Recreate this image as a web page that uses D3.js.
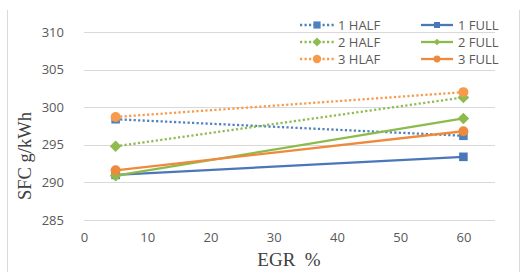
<!DOCTYPE html>
<html>
<head>
<meta charset="utf-8">
<script src="https://cdn.jsdelivr.net/npm/d3@7"></script>
<style>
  body { margin: 0; background: #fff; }
  svg { display: block; }
</style>
</head>
<body>
<script>
const egr = [5, 60];
const seriesNames = ["1 HALF", "1 FULL", "2 HALF", "2 FULL", "3 HLAF", "3 FULL"];
const half1 = [298.4, 296.2];
const full1 = [291.0, 293.4];
const half2 = [294.8, 301.3];
const full2 = [290.9, 298.5];
const half3 = [298.7, 302.0];
const full3 = [291.6, 296.8];
const xTicks = [0, 10, 20, 30, 40, 50, 60];
const yTicks = [285, 290, 295, 300, 305, 310];

const series = [
  { name: seriesNames[0], values: half1, color: "#4f81bd", dotted: true, shape: "square" },
  { name: seriesNames[1], values: full1, color: "#4a77b8", dotted: false, shape: "square" },
  { name: seriesNames[2], values: half2, color: "#8fbc52", dotted: true, shape: "diamond" },
  { name: seriesNames[3], values: full2, color: "#8cbb4b", dotted: false, shape: "diamond" },
  { name: seriesNames[4], values: half3, color: "#f79a4c", dotted: true, shape: "circle" },
  { name: seriesNames[5], values: full3, color: "#ef8a3c", dotted: false, shape: "circle" }
];

const width = 521, height = 272;
const svg = d3.select("body").append("svg")
  .attr("width", width)
  .attr("height", height);

// chart border (left / right)
svg.append("line").attr("x1", 7.5).attr("x2", 7.5).attr("y1", 10).attr("y2", 272)
  .attr("stroke", "#d9d9d9");
svg.append("line").attr("x1", 519.5).attr("x2", 519.5).attr("y1", 10).attr("y2", 272)
  .attr("stroke", "#d9d9d9");

const xScale = d3.scaleLinear().domain([0, 65]).range([84, 495]);
const yScale = d3.scaleLinear().domain([285, 310]).range([220, 32]);

// gridlines
svg.append("g")
  .selectAll("line")
  .data(yTicks)
  .join("line")
  .attr("x1", xScale(0))
  .attr("x2", xScale(65))
  .attr("y1", d => Math.round(yScale(d)) + 0.5)
  .attr("y2", d => Math.round(yScale(d)) + 0.5)
  .attr("stroke", "#d9d9d9")
  .attr("stroke-width", 1.2);

const tickFont = "'Open Sans', 'Liberation Sans', sans-serif";

const yAxis = d3.axisLeft(yScale).tickValues(yTicks).tickSize(0).tickPadding(0);
const yg = svg.append("g").attr("transform", "translate(64,0)").call(yAxis);
yg.select(".domain").remove();
yg.selectAll("text").attr("font-family", tickFont).attr("font-size", 13).attr("fill", "#595959");

const xAxis = d3.axisBottom(xScale).tickValues(xTicks).tickSize(0).tickPadding(0);
const xg = svg.append("g").attr("transform", "translate(0,233)").call(xAxis);
xg.select(".domain").remove();
xg.selectAll("text").attr("font-family", tickFont).attr("font-size", 13).attr("fill", "#595959");

// axis titles
svg.append("text")
  .attr("transform", "translate(31,156) rotate(-90)")
  .attr("text-anchor", "middle")
  .attr("font-family", "'Liberation Serif', serif")
  .attr("font-size", 18.5)
  .attr("fill", "#404040")
  .text("SFC g/kWh");

svg.append("text")
  .attr("x", 289)
  .attr("y", 266)
  .attr("text-anchor", "middle")
  .attr("font-family", "'Liberation Serif', serif")
  .attr("font-size", 19)
  .attr("fill", "#404040")
  .attr("xml:space", "preserve")
  .text("EGR  %");

// r = half width of marker
function markerPath(shape, r) {
  if (shape === "square") return `M${-r},${-r}H${r}V${r}H${-r}Z`;
  if (shape === "diamond") return `M0,${-r}L${r},0L0,${r}L${-r},0Z`;
  return d3.symbol().type(d3.symbolCircle).size(Math.PI * r * r)();
}

function drawMarker(g, s, x, y, r) {
  g.append("path")
    .attr("transform", `translate(${x},${y})`)
    .attr("d", markerPath(s.shape, r))
    .attr("fill", s.color);
}

const line = d3.line()
  .x((d, i) => xScale(egr[i]))
  .y(d => yScale(d));

const plot = svg.append("g");
series.forEach(s => {
  plot.append("path")
    .datum(s.values)
    .attr("fill", "none")
    .attr("stroke", s.color)
    .attr("stroke-width", 2.3)
    .attr("stroke-dasharray", s.dotted ? "2.2,2.3" : null)
    .attr("d", line);
});
series.forEach(s => {
  s.values.forEach((v, i) => {
    const r = s.shape === "square" ? 4.3 : (s.shape === "circle" ? 5 : 5.8);
    drawMarker(plot, s, xScale(egr[i]), yScale(v), r);
  });
});

// legend
const legend = svg.append("g");
series.forEach((s, i) => {
  const col = i % 2, row = Math.floor(i / 2);
  const x0 = col === 0 ? 300 : 421;
  const x1 = col === 0 ? 334 : 453;
  const y = 25 + row * 17;
  const g = legend.append("g");
  g.append("line")
    .attr("x1", x0).attr("x2", x1).attr("y1", y).attr("y2", y)
    .attr("stroke", s.color)
    .attr("stroke-width", 2.3)
    .attr("stroke-dasharray", s.dotted ? "2.2,2.3" : null);
  let r;
  if (s.shape === "square") r = s.dotted ? 3.6 : 3;
  else if (s.shape === "circle") r = s.dotted ? 4.2 : 3.4;
  else r = s.dotted ? 4.5 : 3.3;
  drawMarker(g, s, (x0 + x1) / 2, y, r);
  g.append("text")
    .attr("x", col === 0 ? 338 : 458)
    .attr("y", y + 4.5)
    .attr("font-family", tickFont)
    .attr("font-size", 13)
    .attr("fill", "#595959")
    .text(s.name);
});
</script>
</body>
</html>
